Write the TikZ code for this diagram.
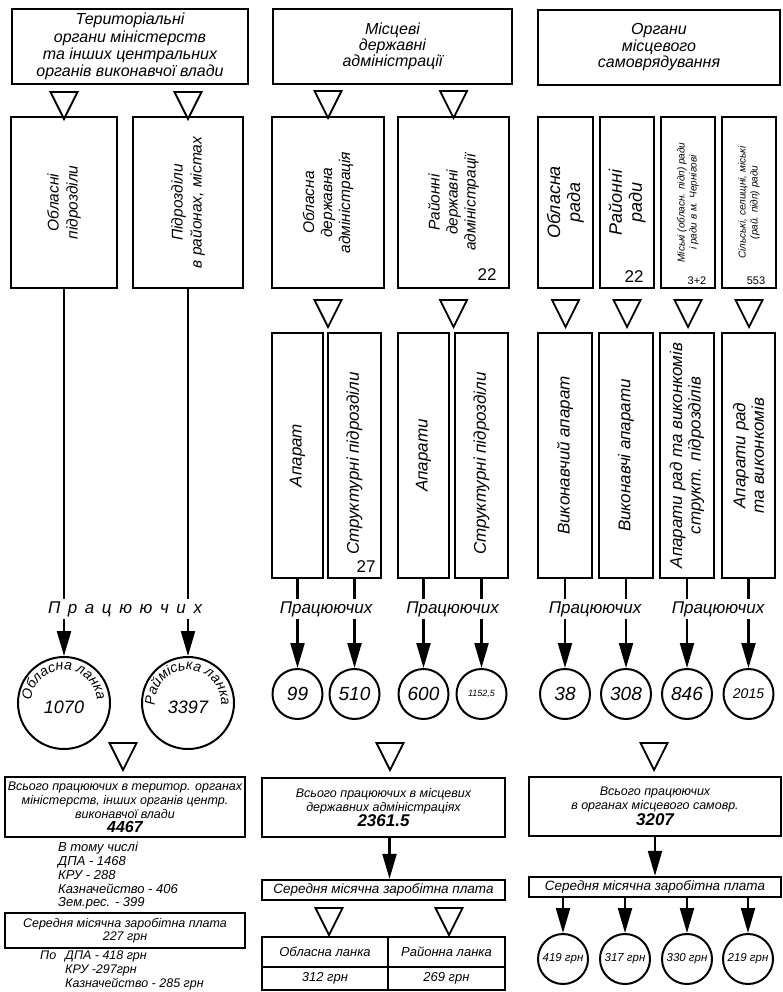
\documentclass[tikz,border=0pt]{standalone}
\usepackage{fontspec}
\setmainfont{Liberation Sans}
\usetikzlibrary{arrows.meta,decorations.text}
\newcommand\myfs[2]{\itshape\fontsize{#1}{#2}\selectfont}
\begin{document}
\begin{tikzpicture}[x=1pt,y=-1pt,
  box/.style={draw, line width=2.4pt, inner sep=0pt, align=center},
  thinbox/.style={draw, line width=2pt, inner sep=0pt, align=center},
  rt/.style={rotate=90, inner sep=0pt, align=center},
  ln/.style={line width=2.2pt},
  arr/.style={line width=2.2pt, -{Triangle[length=25pt,width=14pt]}},
  sc/.style={circle, draw, line width=2pt, inner sep=0pt, minimum size=50pt},
  bc/.style={circle, draw, line width=2pt, inner sep=0pt, minimum size=92pt},
  lab/.style={font=\myfs{17}{17}, inner sep=2pt},
  tri/.pic={\draw[line width=1.8pt, line join=miter] (-13.5,0) -- (13.5,0) -- (0,27) -- cycle;}
]
\useasboundingbox (0,0) rectangle (782,992);
\fill[white] (0,0) rectangle (782,992);

% ---- row 1
\node[box, font=\myfs{16}{17.2}, minimum width=236pt, minimum height=75pt] (T1) at (130,46.5)
  {Територіальні\\органи міністерств\\та інших центральних\\органів виконавчої влади};
\node[box, font=\myfs{16}{16}, minimum width=239pt, minimum height=75pt] (T2) at (392.5,46.5)
  {Місцеві\\державні\\адміністрації};
\node[box, font=\myfs{16}{16.5}, minimum width=242pt, minimum height=75pt] (T3) at (659,47.5)
  {Органи\\місцевого\\самоврядування};

\pic at (64,92) {tri};
\pic at (188,92) {tri};
\pic at (328,91) {tri};
\pic at (453.5,91) {tri};

% ---- row 2
\node[box, minimum width=106pt, minimum height=171pt] (A) at (64,202.5) {};
\node[box, minimum width=110pt, minimum height=171pt] (B) at (188,202.5) {};
\node[box, minimum width=112pt, minimum height=171pt] (C) at (328,202.5) {};
\node[box, minimum width=111pt, minimum height=171pt] (D) at (453.5,202.5) {};
\node[box, minimum width=55pt, minimum height=171pt] (E) at (565.5,202.5) {};
\node[box, minimum width=54pt, minimum height=171pt] (F) at (627,202.5) {};
\node[box, minimum width=54pt, minimum height=171pt] (G) at (688,202.5) {};
\node[box, minimum width=54pt, minimum height=171pt] (H) at (749,202.5) {};

\node[rt, font=\myfs{15.5}{19}] (At) at (A) {Обласні\\підрозділи};
\node[rt, font=\myfs{15.5}{19}] (Bt) at (B) {Підрозділи\\в районах, містах};
\node[rt, font=\myfs{15.5}{18}] (Ct) at (C) {Обласна\\державна\\адміністрація};
\node[rt, font=\myfs{15.5}{18}] (Dt) at (D) {Районні\\державні\\адміністрації};
\node[rt, font=\myfs{18}{20}] (Et) at (E) {Обласна\\рада};
\node[rt, font=\myfs{18}{20}] (Ft) at (F) {Районні\\ради};
\node[rt, font=\myfs{10}{12}] (Gt) at (G) {Міські (обласн. підп) ради\\і ради в м. Чернігові};
\node[rt, font=\myfs{10}{12}] (Ht) at (H) {Сільські, селищні, міські\\(рай. підп) ради};

\node[font=\fontsize{17}{17}\selectfont, inner sep=0pt] (Dn) at (487,275) {22};
\node[font=\fontsize{17}{17}\selectfont, inner sep=0pt] (Fn) at (634,277) {22};
\node[font=\fontsize{11}{11}\selectfont, inner sep=0pt] (Gn) at (697,281) {3+2};
\node[font=\fontsize{11}{11}\selectfont, inner sep=0pt] (Hn) at (756,281) {553};

\pic at (328,300) {tri};
\pic at (453.5,300) {tri};
\pic at (565.5,300) {tri};
\pic at (627,300) {tri};
\pic at (688,300) {tri};
\pic at (749,300) {tri};

% ---- row 3
\node[box, minimum width=51pt, minimum height=245pt] (C1) at (297.5,455.5) {};
\node[box, minimum width=53pt, minimum height=245pt] (C2) at (354.5,455.5) {};
\node[box, minimum width=51pt, minimum height=245pt] (D1) at (423.5,455.5) {};
\node[box, minimum width=53pt, minimum height=245pt] (D2) at (481.5,455.5) {};
\node[box, minimum width=54pt, minimum height=245pt] (E1) at (565,455.5) {};
\node[box, minimum width=54pt, minimum height=245pt] (F1) at (626,455.5) {};
\node[box, minimum width=54pt, minimum height=245pt] (G1) at (687,455.5) {};
\node[box, minimum width=53pt, minimum height=245pt] (H1) at (748.5,455.5) {};

\node[rt, font=\myfs{17}{18.5}] (C1t) at (C1) {Апарат};
\node[rt, font=\myfs{17}{18.5}] (C2t) at ([yshift=-8pt]C2.center) {Структурні підрозділи};
\node[rt, font=\myfs{17}{18.5}] (D1t) at (D1) {Апарати};
\node[rt, font=\myfs{17}{18.5}] (D2t) at ([yshift=-8pt]D2.center) {Структурні підрозділи};
\node[rt, font=\myfs{17}{18.5}] (E1t) at (E1) {Виконавчий апарат};
\node[rt, font=\myfs{17}{18.5}] (F1t) at (F1) {Виконавчі апарати};
\node[rt, font=\myfs{17}{18.5}] (G1t) at (G1) {Апарати рад та виконкомів\\структ. підрозділів};
\node[rt, font=\myfs{17}{18.5}] (H1t) at (H1) {Апарати рад\\та виконкомів};
\node[font=\fontsize{17}{17}\selectfont, inner sep=0pt] (C2n) at (366,567) {27};

% ---- labels
\node[lab] (L1) at (125,609) {\makebox[154pt][s]{П р а ц ю ю ч и х}};
\node[lab] (L2) at (326,609) {Працюючих};
\node[lab] (L3) at (452.5,609) {Працюючих};
\node[lab] (L4) at (595,609) {Працюючих};
\node[lab] (L5) at (718,609) {Працюючих};

\foreach \b/\l in {A/L1,B/L1,C1/L2,C2/L2,D1/L3,D2/L3,E1/L4,F1/L4,G1/L5,H1/L5}
  \draw[ln] (\b.south) -- (\b.south |- \l.north);

% ---- circles
\node[bc] (O1) at (64,703) {};
\node[font=\myfs{18}{18}] (O1n) at ([yshift=-4pt]O1.center) {1070};
\path[decorate, decoration={text along path, text align=center,
  text={|\myfs{14}{14}|Обласна ланка}}]
  ([shift={(185:33pt)}]O1.center) arc[start angle=185, end angle=-5, radius=33pt];
\node[bc] (O2) at (188,703) {};
\node[font=\myfs{18}{18}] (O2n) at ([yshift=-4pt]O2.center) {3397};
\path[decorate, decoration={text along path, text align=center,
  text={|\myfs{14}{14}|Раймiська ланка}}]
  ([shift={(195:33pt)}]O2.center) arc[start angle=195, end angle=-15, radius=33pt];

\node[sc, font=\myfs{19}{19}] (P1) at (297.5,694) {99};
\node[sc, font=\myfs{19}{19}] (P2) at (354.5,694) {510};
\node[sc, font=\myfs{19}{19}] (P3) at (423.5,694) {600};
\node[sc, font=\myfs{9}{9}] (P4) at (481.5,694) {1152,5};
\node[sc, font=\myfs{19}{19}] (P5) at (565,694) {38};
\node[sc, font=\myfs{19}{19}] (P6) at (626,694) {308};
\node[sc, font=\myfs{19}{19}] (P7) at (687,694) {846};
\node[sc, font=\myfs{14}{14}] (P8) at (748.5,694) {2015};

\draw[arr] (A.south |- L1.south) -- (O1.north);
\draw[arr] (B.south |- L1.south) -- (O2.north);
\foreach \b/\l/\c in {C1/L2/P1,C2/L2/P2,D1/L3/P3,D2/L3/P4,E1/L4/P5,F1/L4/P6,G1/L5/P7,H1/L5/P8}
  \draw[arr] (\b.south |- \l.south) -- (\c.north);

\pic at (123,743) {tri};
\pic at (390,743) {tri};
\pic at (654,743) {tri};

% ---- bottom, column 1
\node[box, font=\myfs{12.5}{14}, minimum width=240pt, minimum height=60pt] (TT1) at (125,807)
  {Всього працюючих в територ. органах\\міністерств, інших органів центр.\\виконавчої влади\\{\bfseries\fontsize{16}{16}\selectfont 4467}};
\node[font=\myfs{13}{13.8}, align=left, anchor=north west, inner sep=0pt] (List1) at (58,842)
  {В тому числі\\ДПА - 1468\\КРУ - 288\\Казначейство - 406\\Зем.рес. - 399};
\node[box, font=\myfs{12.5}{13.5}, minimum width=240pt, minimum height=35pt] (S1) at (125,930.5)
  {Середня місячна заробітна плата\\227 грн};
\node[font=\myfs{12.5}{13.8}, anchor=north west, inner sep=0pt] (Po) at (40,951) {По};
\node[font=\myfs{12.5}{13.8}, align=left, anchor=north west, inner sep=0pt] (List2) at (65,951)
  {ДПА - 418 грн\\КРУ -297грн\\Казначейство - 285 грн};

% ---- bottom, column 2
\node[box, font=\myfs{12.5}{14}, minimum width=243pt, minimum height=59pt] (TT2) at (383.5,807.5)
  {Всього працюючих в місцевих\\державних адміністраціях\\{\bfseries\fontsize{17}{19}\selectfont 2361.5}};
\node[box, font=\myfs{13.5}{13.5}, minimum width=243pt, minimum height=20pt] (S2) at (383.5,890)
  {Середня місячна заробітна плата};
\draw[arr] ([xshift=6pt]TT2.south) -- ([xshift=6pt]S2.north);
\pic at (329,908) {tri};
\pic at (449,908) {tri};
\node[thinbox, font=\myfs{13}{13}, minimum width=126pt, minimum height=30pt] (c11) at (325,952) {Обласна ланка};
\node[thinbox, font=\myfs{13}{13}, minimum width=117pt, minimum height=30pt] (c12) at (446.5,952) {Районна ланка};
\node[thinbox, font=\myfs{13}{13}, minimum width=126pt, minimum height=23pt] (c21) at (325,978.5) {312 грн};
\node[thinbox, font=\myfs{13}{13}, minimum width=117pt, minimum height=23pt] (c22) at (446.5,978.5) {269 грн};

% ---- bottom, column 3
\node[box, font=\myfs{12.5}{14}, minimum width=252pt, minimum height=59pt] (TT3) at (655,806.5)
  {Всього працюючих\\в органах місцевого самовр.\\{\bfseries\fontsize{17}{19}\selectfont 3207}};
\node[box, font=\myfs{13.5}{13.5}, minimum width=252pt, minimum height=20pt] (S3) at (655,887)
  {Середня місячна заробітна плата};
\draw[arr] (TT3.south) -- (S3.north);
\node[sc, font=\myfs{11.5}{11.5}] (R1) at (563,959) {419 грн};
\node[sc, font=\myfs{11.5}{11.5}] (R2) at (625,959) {317 грн};
\node[sc, font=\myfs{11.5}{11.5}] (R3) at (687,959) {330 грн};
\node[sc, font=\myfs{11.5}{11.5}] (R4) at (748,959) {219 грн};
\foreach \c in {R1,R2,R3,R4}
  \draw[arr] (S3.south -| \c.north) -- (\c.north);
\end{tikzpicture}
\end{document}
